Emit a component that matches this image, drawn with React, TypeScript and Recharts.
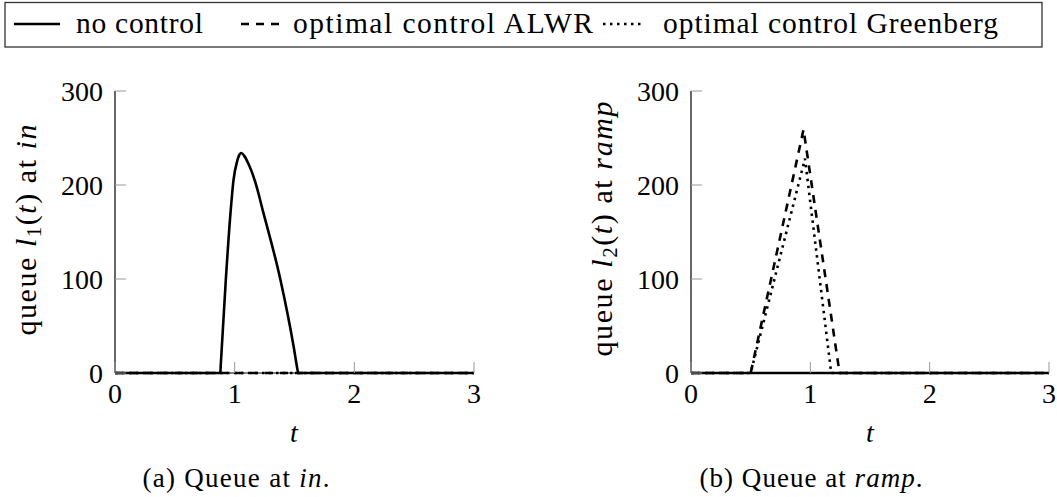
import React from "react"
import { LineChart, Line, XAxis, YAxis } from "recharts"

const FONT = "'Liberation Serif', serif"

const tTicks = [0, 1, 2, 3]
const qTicks = [0, 100, 200, 300]

// queue l1(t) at "in"
const inNoControlT = [0, 0.88, 0.884, 0.926, 0.965, 0.99, 1.02, 1.035, 1.055, 1.08, 1.11, 1.14, 1.17, 1.241, 1.381, 1.493, 1.527, 1.53, 3]
const inNoControlQ = [0, 0, 9, 99, 170, 205, 225, 231, 234, 231, 224, 215, 204, 170, 100, 28, 2, 0, 0]
const inAlwrT = [0, 3]
const inAlwrQ = [0, 0]
const inGreenbergT = [0, 3]
const inGreenbergQ = [0, 0]

// queue l2(t) at "ramp"
const rampNoControlT = [0, 3]
const rampNoControlQ = [0, 0]
const rampAlwrT = [0, 0.5, 0.943, 1.245, 3]
const rampAlwrQ = [0, 0, 259, 0, 0]
const rampGreenbergT = [0, 0.5, 0.955, 1.175, 3]
const rampGreenbergQ = [0, 0, 228, 0, 0]

const pts = (ts: number[], qs: number[]) => ts.map((t, i) => ({ t, q: qs[i] }))

const XTick = (props: any) => {
    const { x, y, payload } = props
    return (
        <g>
            <line x1={x} x2={x} y1={y} y2={y - 11} stroke="#999" strokeWidth={1} />
            <text x={x} y={y + 30} textAnchor="middle" fontFamily={FONT} fontSize={28} fill="#000">
                {payload.value}
            </text>
        </g>
    )
}

const YTick = (props: any) => {
    const { x, y, payload } = props
    return (
        <g>
            <line x1={x} x2={x + 11} y1={y} y2={y} stroke="#999" strokeWidth={1} />
            <text x={x - 12} y={y + 10} textAnchor="end" fontFamily={FONT} fontSize={28} fill="#000">
                {payload.value}
            </text>
        </g>
    )
}

type Series = { data: { t: number; q: number }[]; dash?: string; curve: "linear" | "monotone" }

function Panel({ left, width, margin, series }: { left: number; width: number; margin: any; series: Series[] }) {
    return (
        <div style={{ position: "absolute", left, top: 0 }}>
            <LineChart width={width} height={497} margin={margin}>
                <XAxis
                    dataKey="t"
                    type="number"
                    domain={[0, 3]}
                    ticks={tTicks}
                    interval={0}
                    height={1}
                    tickSize={0}
                    tickMargin={0}
                    tick={(p: any) => <XTick {...p} />}
                    axisLine={{ stroke: "#000", strokeWidth: 1.2 }}
                    tickLine={false}
                />
                <YAxis
                    type="number"
                    domain={[0, 300]}
                    ticks={qTicks}
                    interval={0}
                    width={1}
                    tickSize={0}
                    tickMargin={0}
                    tick={(p: any) => <YTick {...p} />}
                    axisLine={{ stroke: "#000", strokeWidth: 1.2 }}
                    tickLine={false}
                />
                {series.map((s, i) => (
                    <Line
                        key={i}
                        data={s.data}
                        dataKey="q"
                        type={s.curve}
                        stroke="#000"
                        strokeWidth={2.6}
                        strokeDasharray={s.dash}
                        dot={false}
                        activeDot={false}
                        isAnimationActive={false}
                    />
                ))}
            </LineChart>
        </div>
    )
}

const DASHED = "8 7"
const DOTTED = "2.5 4.5"

export default function App() {
    const inSeries: Series[] = [
        { data: pts(inNoControlT, inNoControlQ), curve: "monotone" },
        { data: pts(inAlwrT, inAlwrQ), dash: DASHED, curve: "linear" },
        { data: pts(inGreenbergT, inGreenbergQ), dash: DOTTED, curve: "linear" },
    ]
    const rampSeries: Series[] = [
        { data: pts(rampNoControlT, rampNoControlQ), curve: "linear" },
        { data: pts(rampAlwrT, rampAlwrQ), dash: DASHED, curve: "linear" },
        { data: pts(rampGreenbergT, rampGreenbergQ), dash: DOTTED, curve: "linear" },
    ]

    return (
        <div style={{ position: "absolute", left: 0, top: 0, width: 1057, height: 497, background: "#fff" }}>
            <Panel left={0} width={540} margin={{ top: 91, left: 114, right: 66, bottom: 123 }} series={inSeries} />
            <Panel left={540} width={517} margin={{ top: 91, left: 150, right: 8, bottom: 123 }} series={rampSeries} />

            <svg width={1057} height={497} style={{ position: "absolute", left: 0, top: 0, pointerEvents: "none" }}>
                <g fontFamily={FONT} fill="#000">
                    {/* legend */}
                    <rect x={5} y={2.5} width={1037} height={44.5} fill="none" stroke="#333" strokeWidth={1.3} />
                    <line x1={14} x2={60} y1={24} y2={24} stroke="#000" strokeWidth={2.6} />
                    <line x1={241} x2={281} y1={24} y2={24} stroke="#000" strokeWidth={2.6} strokeDasharray={DASHED} />
                    <line x1={603} x2={643} y1={24} y2={24} stroke="#000" strokeWidth={2.6} strokeDasharray={DOTTED} />
                    <text x={76} y={33} fontSize={29.5} textLength={127} lengthAdjust="spacing">no control</text>
                    <text x={293} y={33} fontSize={29.5} textLength={300} lengthAdjust="spacing">optimal control ALWR</text>
                    <text x={663} y={33} fontSize={29.5} textLength={335} lengthAdjust="spacing">optimal control Greenberg</text>

                    {/* axis labels */}
                    <text transform="rotate(-90)" x={-230} y={36} textAnchor="middle" fontSize={30} textLength={211} lengthAdjust="spacing">
                        queue <tspan fontStyle="italic">l</tspan>
                        <tspan fontSize={21} dy={5}>1</tspan>
                        <tspan dy={-5}>(</tspan>
                        <tspan fontStyle="italic">t</tspan>) at <tspan fontStyle="italic">in</tspan>
                    </text>
                    <text transform="rotate(-90)" x={-229} y={612} textAnchor="middle" fontSize={30} textLength={255} lengthAdjust="spacing">
                        queue <tspan fontStyle="italic">l</tspan>
                        <tspan fontSize={21} dy={5}>2</tspan>
                        <tspan dy={-5}>(</tspan>
                        <tspan fontStyle="italic">t</tspan>) at <tspan fontStyle="italic">ramp</tspan>
                    </text>
                    <text x={294} y={442} textAnchor="middle" fontSize={28} fontStyle="italic">t</text>
                    <text x={870} y={442} textAnchor="middle" fontSize={28} fontStyle="italic">t</text>

                    <text x={236} y={487} textAnchor="middle" fontSize={27} textLength={187} lengthAdjust="spacing">
                        (a) Queue at <tspan fontStyle="italic">in</tspan>.
                    </text>
                    <text x={811} y={487} textAnchor="middle" fontSize={27} textLength={223} lengthAdjust="spacing">
                        (b) Queue at <tspan fontStyle="italic">ramp</tspan>.
                    </text>
                </g>
            </svg>
        </div>
    )
}
